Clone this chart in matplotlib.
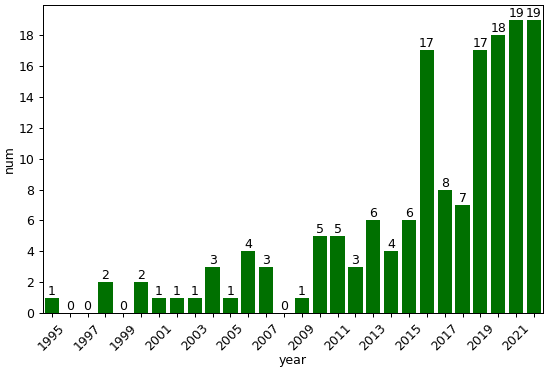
import matplotlib
matplotlib.use("Agg")
import matplotlib.pyplot as plt
import numpy as np

# data
years = list(range(1995, 2023))
nums = [1, 0, 0, 2, 0, 2, 1, 1, 1, 3, 1, 4, 3, 0, 1, 5, 5, 3, 6, 4, 6,
        17, 8, 7, 17, 18, 19, 19]

# reference looks like a downscaled render, so draw at 90 dpi
fig, ax = plt.subplots(figsize=(550 / 90, 375 / 90), dpi=90)

x = np.arange(len(years))
bars = ax.bar(x, nums, width=0.8, color="#007000")
ax.bar_label(bars, labels=[str(v) for v in nums], fontsize=10)

ax.set_xlim(-0.5, len(years) - 0.5)
ax.set_ylim(0, 19.95)
ax.set_yticks(range(0, 19, 2))
ax.set_xticks(x)
ax.set_xticklabels([str(y) if i % 2 == 0 else "" for i, y in enumerate(years)],
                   rotation=45)
ax.set_xlabel("year", labelpad=0)
ax.set_ylabel("num", labelpad=2)

fig.subplots_adjust(left=0.078, right=0.987, top=0.987, bottom=0.165)
fig.savefig("out.png", dpi=90)
